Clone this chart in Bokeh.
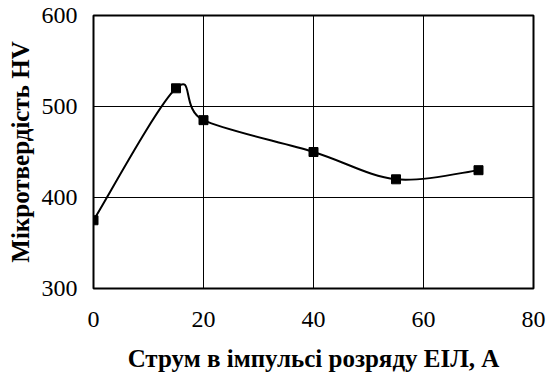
import numpy as np
from bokeh.plotting import figure
from bokeh.models import FixedTicker, Range1d
from bokeh.embed import file_html
from bokeh.resources import INLINE

# Data
current = [0, 15, 20, 40, 55, 70]
hardness = [375, 520, 485, 450, 420, 430]
x_ticks = [0, 20, 40, 60, 80]
y_ticks = [300, 400, 500, 600]
x_title = "Струм в імпульсі розряду ЕІЛ, А"
y_title = "Мікротвердість HV"

FONT = "Liberation Serif"

p = figure(width=547, height=374, output_backend="svg", toolbar_location=None,
           x_range=Range1d(0, 80), y_range=Range1d(300, 600),
           min_border_left=93, min_border_right=14, min_border_top=15, min_border_bottom=85)

p.outline_line_color = "black"
p.outline_line_width = 2
p.background_fill_color = "white"
p.border_fill_color = "white"

for g in (p.xgrid, p.ygrid):
    g.grid_line_color = "black"
    g.grid_line_width = 1
p.xgrid.ticker = FixedTicker(ticks=x_ticks)
p.ygrid.ticker = FixedTicker(ticks=y_ticks)

p.xaxis.ticker = FixedTicker(ticks=x_ticks)
p.yaxis.ticker = FixedTicker(ticks=y_ticks)
for ax in (p.xaxis, p.yaxis):
    ax.axis_line_color = None
    ax.major_tick_line_color = None
    ax.minor_tick_line_color = None
    ax.major_tick_out = 0
    ax.major_tick_in = 0
    ax.major_label_text_font = FONT
    ax.major_label_text_font_size = "24px"
    ax.major_label_text_color = "black"
    ax.axis_label_text_font = FONT
    ax.axis_label_text_font_style = "bold"
    ax.axis_label_text_font_size = "25px"
    ax.axis_label_text_color = "black"

p.xaxis.axis_label = x_title
p.yaxis.axis_label = y_title
p.xaxis.major_label_standoff = 23
p.yaxis.major_label_standoff = 16
p.xaxis.axis_label_standoff = 15
p.yaxis.axis_label_standoff = 5

# Smoothed (Catmull-Rom style Bezier) line through the points
x = np.array(current, dtype=float)
y = np.array(hardness, dtype=float)
xp = np.concatenate([[x[0]], x, [x[-1]]])
yp = np.concatenate([[y[0]], y, [y[-1]]])
n = len(x)
x0 = x[:-1]; y0 = y[:-1]; x1 = x[1:]; y1 = y[1:]
cx0 = x0 + (xp[2:n + 1] - xp[0:n - 1]) / 6.0
cy0 = y0 + (yp[2:n + 1] - yp[0:n - 1]) / 6.0
cx1 = x1 - (xp[3:n + 2] - xp[1:n]) / 6.0
cy1 = y1 - (yp[3:n + 2] - yp[1:n]) / 6.0
p.bezier(x0=x0, y0=y0, x1=x1, y1=y1, cx0=cx0, cy0=cy0, cx1=cx1, cy1=cy1,
         line_color="black", line_width=2)

p.scatter(current, hardness, marker="square", size=9, fill_color="black", line_color="black")

open("out.html", "w").write(file_html(p, INLINE))
